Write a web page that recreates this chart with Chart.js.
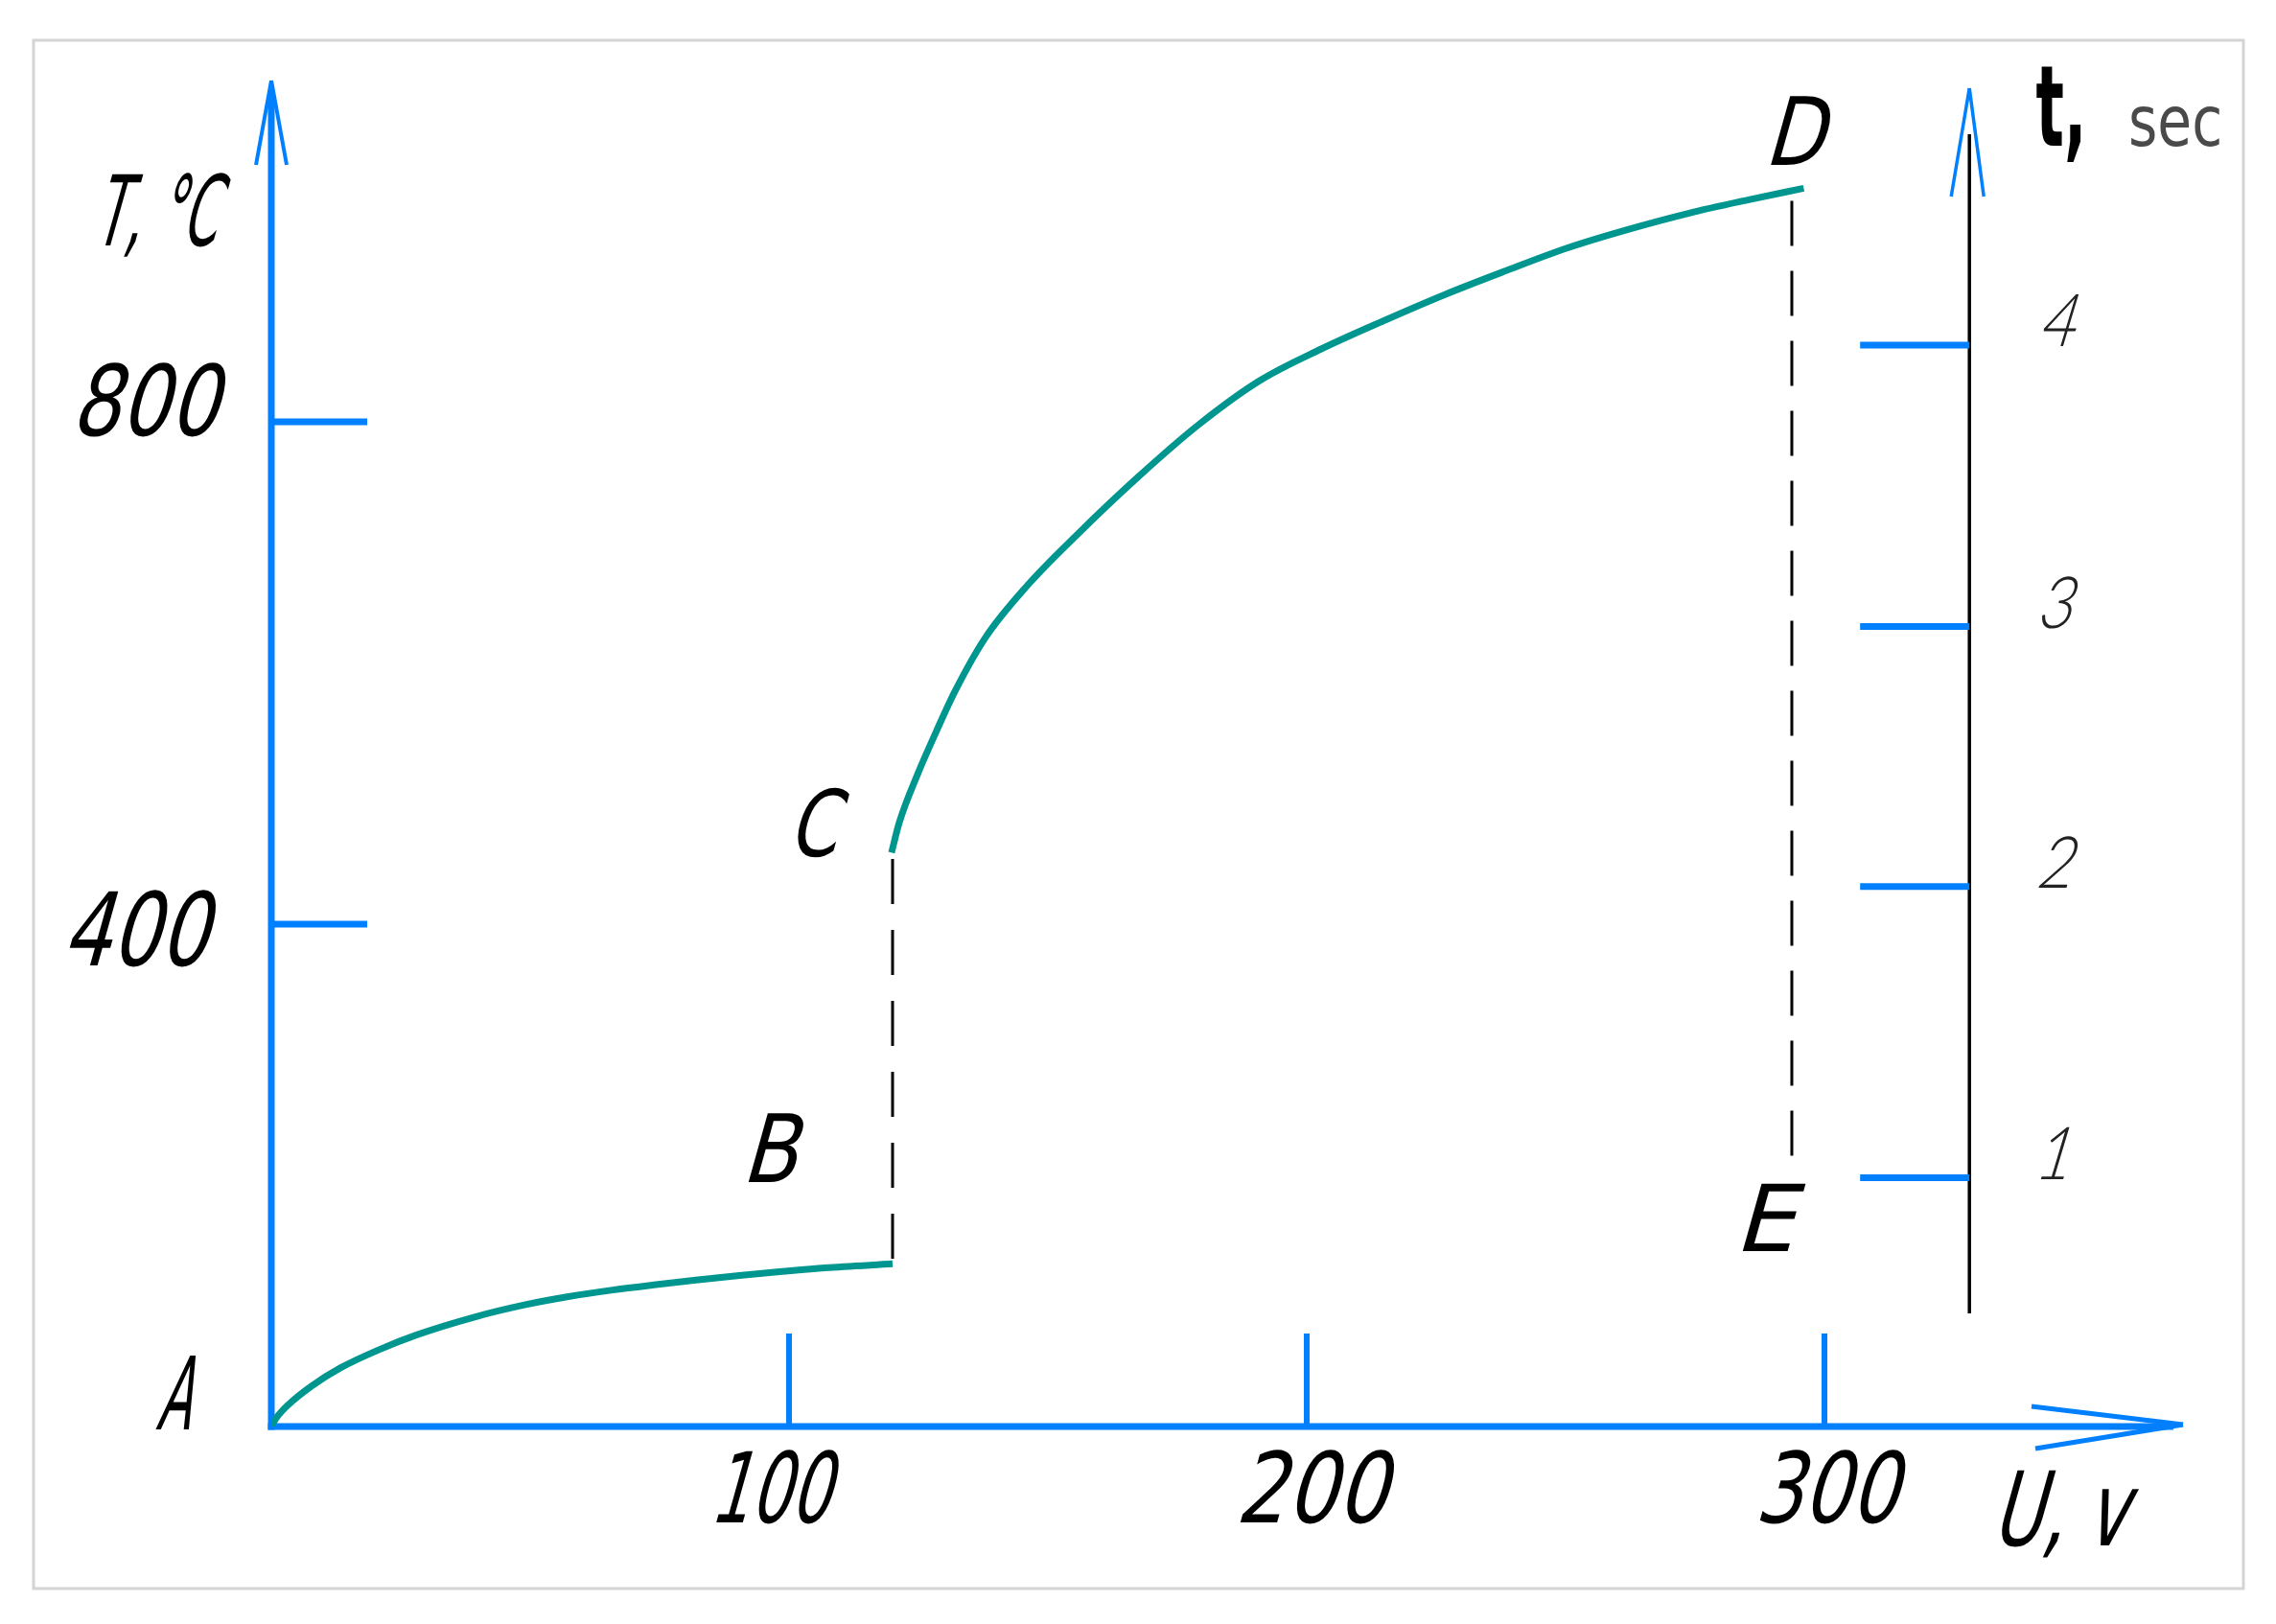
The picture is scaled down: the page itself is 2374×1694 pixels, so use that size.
<!DOCTYPE html>
<html>
<head>
<meta charset="utf-8">
<script src="https://cdn.jsdelivr.net/npm/chart.js@4.4.1/dist/chart.umd.min.js"></script>
<style>
  html, body { margin: 0; padding: 0; background: #fff; }
  canvas { display: block; }
</style>
</head>
<body>
<canvas id="chart" width="2374" height="1694"></canvas>
<script>
// heating curve, U in volts, T in degrees C
const abVolt = [0, 1, 3.2, 7.7, 13.5, 20.7, 28.1, 39.1, 49.1, 57.4, 65.6, 73.9, 82, 90.4, 98.7, 106.9, 120];
const abTemp = [0, 7, 17, 32, 47, 61, 73, 87, 97, 103.4, 108.5, 112.8, 116.6, 120.2, 123.4, 126.3, 129.5];

const cdVolt = [119.8, 121.3, 124.8, 128.4, 132, 137.9, 146.1, 155.6, 167.4, 179.2, 191, 202.8, 214.6, 226.5, 238.3, 250, 261.9, 273.7, 285.6, 296];
const cdTemp = [457, 481, 519, 553, 585, 628, 670, 710, 756, 798, 833, 858, 880, 901, 920, 938, 953, 966, 977, 986];

// dashed drops B-C and D-E
const bcVolt = [120, 120];
const bcTemp = [452, 129];
const deVolt = [293.7, 293.7];
const deTemp = [976, 202];

// axes
const uTicks = [100, 200, 300];
const tempTicks = [400, 800];
const timeTicks = ['1', '2', '3', '4'];
const timeTickTemp = [198, 430, 637, 861];
const timeAxisVolt = 328;

// named points
const pointNames = ['A', 'B', 'C', 'D', 'E'];
const pointVolt = [0, 120, 120, 296, 293.7];
const pointTemp = [0, 129, 457, 986, 202];

const blue = '#0080ff';
const teal = '#009690';
const mainFont = '"Liberation Sans Narrow", "DejaVu Sans Condensed", "DejaVu Sans", sans-serif';

function xy(xs, ys) {
  return xs.map((v, i) => ({ x: v, y: ys[i] }));
}

// draws text so its ink fits a box: left edge, baseline, ink height, ink width
function drawInk(ctx, text, left, base, cap, boxW, o) {
  o = o || {};
  const k = o.slant == null ? 0.28 : o.slant;
  ctx.save();
  ctx.font = (o.weight || 'normal') + ' ' + Math.round(cap / 0.72) + 'px ' + (o.family || mainFont);
  ctx.fillStyle = o.color || '#000';
  ctx.textAlign = 'left';
  ctx.textBaseline = 'alphabetic';
  const m = ctx.measureText(text);
  const ink = m.actualBoundingBoxLeft + m.actualBoundingBoxRight;
  const sy = cap / m.actualBoundingBoxAscent;
  const sx = boxW ? (boxW - k * cap) / ink : (o.sx || 1);
  ctx.setTransform(sx, 0, -k * sy, sy, left + m.actualBoundingBoxLeft * sx, base);
  ctx.fillText(text, 0, 0);
  ctx.restore();
}

function seg(ctx, x1, y1, x2, y2) {
  ctx.beginPath();
  ctx.moveTo(x1, y1);
  ctx.lineTo(x2, y2);
  ctx.stroke();
}

const axesPlugin = {
  id: 'axesPlugin',
  beforeDatasetsDraw(chart) {
    const ctx = chart.ctx;
    const px = v => chart.scales.x.getPixelForValue(v);
    const py = v => chart.scales.y.getPixelForValue(v);
    const x0 = px(0), y0 = py(0);
    const xr = px(timeAxisVolt);
    ctx.save();

    // frame
    ctx.strokeStyle = '#d4d4d4';
    ctx.lineWidth = 3;
    ctx.strokeRect(35, 42, 2305, 1615);

    ctx.strokeStyle = blue;
    ctx.lineCap = 'butt';

    // T axis with arrow
    const yTip = 84;
    ctx.lineWidth = 7;
    seg(ctx, x0, y0 + 3.5, x0, yTip + 10);
    ctx.lineWidth = 4;
    seg(ctx, x0 - 16, yTip + 88, x0, yTip);
    seg(ctx, x0 + 16, yTip + 88, x0, yTip);

    // U axis with arrow
    const xTip = 2277;
    ctx.lineWidth = 7;
    seg(ctx, x0 - 3.5, y0, xTip - 10, y0);
    ctx.lineWidth = 5;
    seg(ctx, xTip - 158, y0 - 21, xTip, y0 - 2);
    seg(ctx, xTip - 154, y0 + 23, xTip, y0 - 2);

    // ticks
    ctx.lineWidth = 7;
    tempTicks.forEach(v => seg(ctx, x0, py(v), x0 + 100, py(v)));
    ctx.lineWidth = 6;
    uTicks.forEach(v => seg(ctx, px(v), y0, px(v), y0 - 97));

    // time axis
    ctx.strokeStyle = '#000';
    ctx.lineWidth = 3.5;
    seg(ctx, xr, 140, xr, 1370);
    ctx.strokeStyle = blue;
    ctx.lineWidth = 3.5;
    seg(ctx, xr - 19, 205, xr, 92);
    seg(ctx, xr + 15, 205, xr, 92);
    ctx.lineWidth = 7;
    timeTickTemp.forEach(v => seg(ctx, xr - 114, py(v), xr, py(v)));

    ctx.restore();
  },
  afterDatasetsDraw(chart) {
    const ctx = chart.ctx;
    const px = v => chart.scales.x.getPixelForValue(v);
    const py = v => chart.scales.y.getPixelForValue(v);
    const x0 = px(0), y0 = py(0);
    const xr = px(timeAxisVolt);

    // axis titles
    drawInk(ctx, 'T, °C', x0 - 187, 256, 76, 147);
    drawInk(ctx, 'U, v', 2082, y0 + 124, 79, 155);
    drawInk(ctx, 't,', xr + 70, 152, 82, 0, { weight: 'bold', slant: 0, sx: 0.6 });
    drawInk(ctx, 'sec', xr + 168, 152, 42, 93, { slant: 0, color: '#4a4a4a', family: '"DejaVu Sans Condensed", "DejaVu Sans", sans-serif' });

    // T tick labels
    const tLab = { 400: [x0 - 216, 43, 79, 166], 800: [x0 - 205, 14, 76, 165] };
    tempTicks.forEach(v => {
      const b = tLab[v];
      drawInk(ctx, String(v), b[0], py(v) + b[1], b[2], b[3]);
    });

    // U tick labels
    const uLab = { 100: [-77, 136], 200: [-70, 169], 300: [-68, 160] };
    uTicks.forEach(v => {
      const b = uLab[v];
      drawInk(ctx, String(v), px(v) + b[0], y0 + 100, 76, b[1]);
    });

    // time labels
    timeTicks.forEach((t, i) => {
      drawInk(ctx, t, xr + 72, py(timeTickTemp[i]) + 1, 54, 0,
        { family: 'Lato, "DejaVu Sans", sans-serif', weight: '300', color: '#222', sx: 0.85, slant: 0.3 });
    });

    // point letters
    const pLab = {
      A: [-121, 3, 77, 57],
      B: [-151, -86, 73, 65],
      C: [-106, 4, 72, 63],
      D: [-35, -24, 73, 71],
      E: [-52, 82, 71, 68]
    };
    pointNames.forEach((n, i) => {
      const b = pLab[n];
      drawInk(ctx, n, px(pointVolt[i]) + b[0], py(pointTemp[i]) + b[1], b[2], b[3]);
    });
  }
};

const lineStyle = { showLine: true, pointRadius: 0, fill: false, borderJoinStyle: 'round' };

new Chart(document.getElementById('chart'), {
  type: 'scatter',
  data: {
    datasets: [
      Object.assign({ label: 'A-B', data: xy(abVolt, abTemp), borderColor: teal, borderWidth: 7, cubicInterpolationMode: 'monotone' }, lineStyle),
      Object.assign({ label: 'C-D', data: xy(cdVolt, cdTemp), borderColor: teal, borderWidth: 7, cubicInterpolationMode: 'monotone' }, lineStyle),
      Object.assign({ label: 'B-C', data: xy(bcVolt, bcTemp), borderColor: '#000', borderWidth: 3, borderDash: [47, 27] }, lineStyle),
      Object.assign({ label: 'D-E', data: xy(deVolt, deTemp), borderColor: '#000', borderWidth: 3, borderDash: [47, 26] }, lineStyle)
    ]
  },
  options: {
    responsive: false,
    animation: false,
    events: [],
    layout: { padding: { left: 283, right: 201, top: 47, bottom: 206 } },
    plugins: { legend: { display: false }, tooltip: { enabled: false } },
    scales: {
      x: { type: 'linear', min: 0, max: 350, display: false },
      y: { type: 'linear', min: 0, max: 1100, display: false }
    }
  },
  plugins: [axesPlugin]
});
</script>
</body>
</html>
